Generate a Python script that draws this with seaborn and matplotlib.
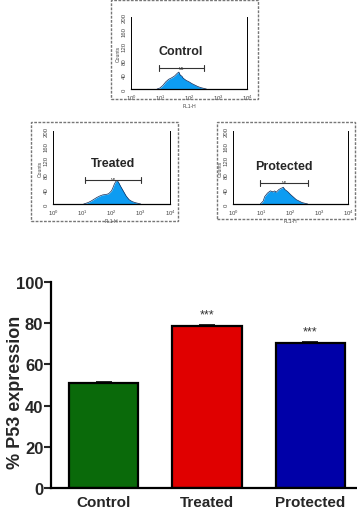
import numpy as np
import pandas as pd
import matplotlib
matplotlib.use("Agg")
import matplotlib.pyplot as plt
import matplotlib.patches as mpatches
import seaborn as sns

# ---------------- data ----------------
groups = ["Control", "Treated", "Protected"]
p53_mean = [51.0, 78.5, 70.2]
p53_err = [0.6, 0.7, 0.6]
signif = ["", "***", "***"]
bar_colors = ["#0a6a0a", "#e00000", "#0000a8"]

# flow cytometry histograms (log10 FL1-H, counts)
ctrl_x = [0.90, 1.00, 1.10, 1.20, 1.30, 1.40, 1.50, 1.55, 1.60, 1.65, 1.70, 1.75, 1.80, 1.90, 2.00, 2.10, 2.20, 2.30, 2.40, 2.50, 2.60]
ctrl_y = [0, 3, 10, 20, 27, 31, 36, 40, 44, 47, 38, 36, 30, 24, 20, 15, 11, 7, 4, 2, 0]
trt_x = [1.05, 1.20, 1.30, 1.40, 1.50, 1.60, 1.70, 1.80, 1.90, 2.00, 2.05, 2.10, 2.15, 2.20, 2.25, 2.30, 2.40, 2.50, 2.60, 2.70, 2.80, 2.90, 3.00]
trt_y = [0, 4, 8, 13, 18, 22, 25, 26, 28, 36, 45, 55, 62, 64, 58, 50, 36, 22, 12, 7, 4, 2, 0]
prot_x = [0.95, 1.05, 1.10, 1.20, 1.30, 1.40, 1.45, 1.50, 1.60, 1.70, 1.75, 1.80, 1.90, 2.00, 2.10, 2.20, 2.30, 2.40, 2.50, 2.60]
prot_y = [0, 8, 20, 30, 36, 33, 36, 32, 40, 44, 46, 40, 34, 26, 19, 12, 8, 4, 2, 0]
gate_lo = [0.95, 1.10, 0.95]
gate_hi = [2.50, 3.00, 2.60]
gate_y = [58, 66, 58]
count_ticks = [0, 40, 80, 120, 160, 200]

# ---------------- style ----------------
sns.set_style("white")
plt.rcParams["font.family"] = ["Liberation Sans", "DejaVu Sans"]

W, H = 357, 510
fig = plt.figure(figsize=(W / 100, H / 100), dpi=100)


def fbox(l, t, r, b):
    return [l / W, 1 - b / H, (r - l) / W, (b - t) / H]


# dashed frames around flow panels
for (l, t, r, b) in [(111, 1, 258, 100), (31, 123, 178, 222), (217, 123, 355, 220)]:
    fig.patches.append(mpatches.Rectangle((l / W, 1 - b / H), (r - l) / W, (b - t) / H,
                                          transform=fig.transFigure, fill=False,
                                          edgecolor="#777777", linewidth=1.0,
                                          linestyle=(0, (2, 1))))

hist_sets = [(ctrl_x, ctrl_y), (trt_x, trt_y), (prot_x, prot_y)]
hist_boxes = [(131, 18, 247, 90), (53, 132, 170, 205), (233, 132, 348, 205)]

for i, (g, (hx, hy), box) in enumerate(zip(groups, hist_sets, hist_boxes)):
    ax = fig.add_axes(fbox(*box))
    xs = np.power(10.0, hx)
    df = pd.DataFrame({"x": xs, "y": hy})
    ax.fill_between(df["x"], 0, df["y"], color="#0d9cf2", linewidth=0)
    sns.lineplot(data=df, x="x", y="y", ax=ax, color="#0a2a5a", linewidth=0.5)
    ax.set_xscale("log")
    ax.set_xlim(1, 1e4)
    ax.set_ylim(0, 200)
    ax.set_yticks(count_ticks)
    ax.set_yticks(np.arange(0, 201, 10), minor=True)
    ax.set_yticklabels([str(v) for v in count_ticks], rotation=90, va="center",
                       fontsize=4.3, color="#444444")
    ax.tick_params(axis="x", labelsize=4.3, labelcolor="#444444", pad=1)
    ax.tick_params(axis="both", which="major", direction="out", length=2, width=0.6, color="black")
    ax.tick_params(axis="both", which="minor", direction="out", length=1.2, width=0.5, color="black")
    ax.tick_params(axis="y", pad=1)
    for s in ["left", "bottom", "right"]:
        ax.spines[s].set_visible(True)
        ax.spines[s].set_color("black")
    ax.spines["left"].set_linewidth(0.7)
    ax.spines["bottom"].set_linewidth(0.9)
    ax.spines["right"].set_linewidth(0.7)
    ax.spines["top"].set_visible(False)
    ax.set_xlabel("FL1-H", fontsize=3.6, labelpad=0.5, color="#444444")
    ax.set_ylabel("Counts", fontsize=3.6, labelpad=0.5, color="#444444")
    ax.set_facecolor("none")
    # gate bracket
    lo, hi = 10 ** gate_lo[i], 10 ** gate_hi[i]
    ax.plot([lo, hi], [gate_y[i], gate_y[i]], color="#333333", linewidth=0.8)
    ax.plot([lo, lo], [gate_y[i] - 9, gate_y[i] + 9], color="#333333", linewidth=0.8)
    ax.plot([hi, hi], [gate_y[i] - 9, gate_y[i] + 9], color="#333333", linewidth=0.8)
    mid = 10 ** ((gate_lo[i] + gate_hi[i]) / 2)
    ax.text(mid, gate_y[i] - 4, "M1", fontsize=2.8, ha="center", va="bottom", color="#333333")
    ax.text(mid, gate_y[i] + 30, g, fontsize=9, fontweight="bold", ha="center", va="bottom")

# ---------------- bar chart ----------------
axb = fig.add_axes(fbox(51, 283, 357, 489))
bdf = pd.DataFrame({"group": groups, "value": p53_mean})
sns.barplot(data=bdf, x="group", y="value", hue="group", palette=bar_colors,
            saturation=1, width=0.67, edgecolor="black", linewidth=1.6,
            legend=False, ax=axb)
xpos = np.arange(len(groups))
axb.errorbar(xpos, p53_mean, yerr=[np.zeros(len(groups)), p53_err], fmt="none",
             ecolor="black", elinewidth=1.2, capsize=6, capthick=1.2)
for x, m, e, s in zip(xpos, p53_mean, p53_err, signif):
    if s:
        axb.text(x, m + e + 5.0, s, ha="center", va="center", fontsize=9, color="#333333")
axb.set_xlim(-0.51, 2.45)
axb.set_ylim(0, 100)
axb.set_yticks([0, 20, 40, 60, 80, 100])
axb.set_xlabel("")
axb.set_ylabel("% P53 expression", fontsize=13, fontweight="bold")
axb.yaxis.set_label_coords(-0.088, 0.47)
for lab in axb.get_yticklabels():
    lab.set_fontweight("bold")
    lab.set_fontsize(12)
for lab in axb.get_xticklabels():
    lab.set_fontweight("bold")
    lab.set_fontsize(11)
axb.tick_params(axis="y", direction="out", length=5, width=1.5, pad=0.5, left=True)
axb.tick_params(axis="x", length=0, pad=5)
axb.spines["top"].set_visible(False)
axb.spines["right"].set_visible(False)
axb.spines["left"].set_linewidth(1.6)
axb.spines["bottom"].set_linewidth(1.6)
axb.spines["left"].set_color("black")
axb.spines["bottom"].set_color("black")
axb.set_facecolor("none")

fig.savefig("out.png", dpi=100)
